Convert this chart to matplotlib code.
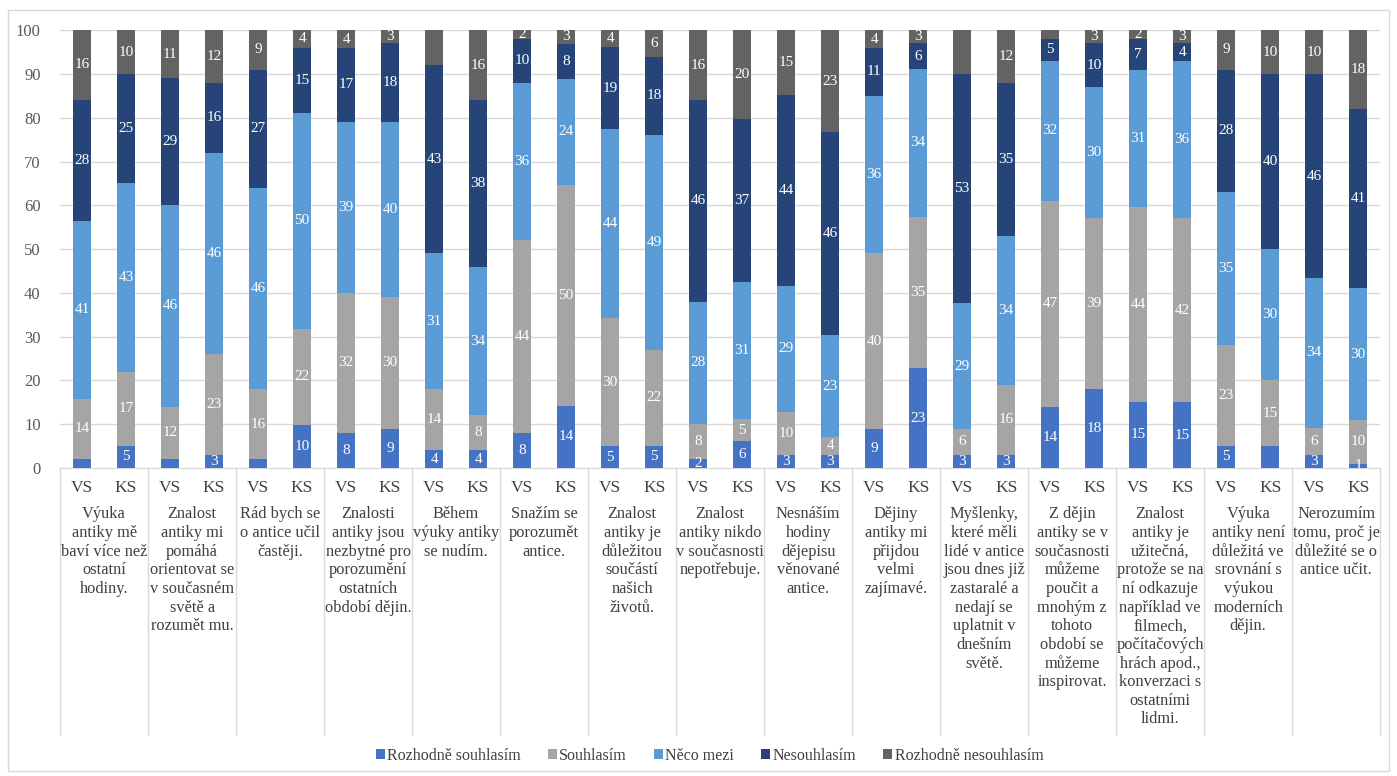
import matplotlib.pyplot as plt
import numpy as np

# answer shares (%) for each statement, VS and KS bars in turn
series_names = ['Rozhodně souhlasím', 'Souhlasím', 'Něco mezi',
                'Nesouhlasím', 'Rozhodně nesouhlasím']
series_colors = ['#4472C4', '#A5A5A5', '#5B9BD5', '#264478', '#636363']

rozhodne_souhlasim = [2, 5, 2, 3, 2, 10, 8, 9, 4, 4, 8, 14, 5, 5, 2,
                      6, 3, 3, 9, 23, 3, 3, 14, 18, 15, 15, 5, 5, 3, 1]
souhlasim = [14, 17, 12, 23, 16, 22, 32, 30, 14, 8, 44, 50, 30, 22, 8,
             5, 10, 4, 40, 35, 6, 16, 47, 39, 44, 42, 23, 15, 6, 10]
neco_mezi = [41, 43, 46, 46, 46, 50, 39, 40, 31, 34, 36, 24, 44, 49, 28,
             31, 29, 23, 36, 34, 29, 34, 32, 30, 31, 36, 35, 30, 34, 30]
nesouhlasim = [28, 25, 29, 16, 27, 15, 17, 18, 43, 38, 10, 8, 19, 18, 46,
               37, 44, 46, 11, 6, 53, 35, 5, 10, 7, 4, 28, 40, 46, 41]
rozhodne_nesouhlasim = [16, 10, 11, 12, 9, 4, 4, 3, 8, 16, 2, 3, 4, 6, 16,
                        20, 15, 23, 4, 3, 10, 12, 2, 3, 2, 3, 9, 10, 10, 18]

# segments whose value is not printed on the bar: (bar index, series index)
unlabelled = {(0, 0), (2, 0), (4, 0), (8, 4), (20, 4), (22, 4), (27, 0)}

bar_labels = ['VS', 'KS'] * 15
statements = [
    'Výuka\nantiky mě\nbaví více než\nostatní\nhodiny.',
    'Znalost\nantiky mi\npomáhá\norientovat se\nv současném\nsvětě a\nrozumět mu.',
    'Rád bych se\no antice učil\nčastěji.',
    'Znalosti\nantiky jsou\nnezbytné pro\nporozumění\nostatních\nobdobí dějin.',
    'Během\nvýuky antiky\nse nudím.',
    'Snažím se\nporozumět\nantice.',
    'Znalost\nantiky je\ndůležitou\nsoučástí\nnašich\nživotů.',
    'Znalost\nantiky nikdo\nv současnosti\nnepotřebuje.',
    'Nesnáším\nhodiny\ndějepisu\nvěnované\nantice.',
    'Dějiny\nantiky mi\npřijdou\nvelmi\nzajímavé.',
    'Myšlenky,\nkteré měli\nlidé v antice\njsou dnes již\nzastaralé a\nnedají se\nuplatnit v\ndnešním\nsvětě.',
    'Z dějin\nantiky se v\nsoučasnosti\nmůžeme\npoučit a\nmnohým z\ntohoto\nobdobí se\nmůžeme\ninspirovat.',
    'Znalost\nantiky je\nužitečná,\nprotože se na\nní odkazuje\nnapříklad ve\nfilmech,\npočítačových\nhrách apod.,\nkonverzaci s\nostatními\nlidmi.',
    'Výuka\nantiky není\ndůležitá ve\nsrovnání s\nvýukou\nmoderních\ndějin.',
    'Nerozumím\ntomu, proč je\ndůležité se o\nantice učit.',
]

plt.rcParams['font.family'] = ['Liberation Serif', 'DejaVu Serif']

fig = plt.figure(figsize=(13.97, 7.76), dpi=100)
ax = fig.add_axes([0.043, 0.397, 0.945, 0.564])

# light frame round the whole chart
fig.patches.append(plt.Rectangle((0.006, 0.006), 0.988, 0.981,
                                 transform=fig.transFigure, fill=False,
                                 edgecolor='#D9D9D9', linewidth=1.0))

x = np.arange(len(bar_labels))
data = np.array([rozhodne_souhlasim, souhlasim, neco_mezi, nesouhlasim,
                 rozhodne_nesouhlasim], dtype=float)
# 100 % stacked: every bar is scaled to its own total
totals = data.sum(axis=0)
bottom = np.zeros(len(x))
for s, (name, col) in enumerate(zip(series_names, series_colors)):
    heights = data[s] / totals * 100
    ax.bar(x, heights, 0.41, bottom=bottom, color=col, label=name, zorder=3)
    for i in range(len(x)):
        if (i, s) in unlabelled:
            continue
        ax.text(x[i], bottom[i] + heights[i] / 2, f'{data[s, i]:.0f}',
                ha='center', va='center', color='white', fontsize=11,
                zorder=4, clip_on=True)
    bottom += heights

ax.set_xlim(-0.5, len(x) - 0.5)
ax.set_ylim(0, 100)
ax.set_yticks(range(0, 101, 10))
ax.yaxis.grid(True, color='#D9D9D9', linewidth=1.0, zorder=0)
ax.tick_params(axis='y', length=0, labelsize=12, labelcolor='#595959', pad=14)
ax.set_xticks(x)
ax.set_xticklabels(bar_labels, fontsize=12.5, color='#404040')
ax.tick_params(axis='x', length=0, pad=9)
for side in ['top', 'right', 'left']:
    ax.spines[side].set_visible(False)
ax.spines['bottom'].set_color('#D9D9D9')

# group dividers and statement texts under the axis
for g in range(len(statements) + 1):
    ax.plot([2 * g - 0.5, 2 * g - 0.5], [0, -0.61], color='#D9D9D9',
            linewidth=1.0, transform=ax.get_xaxis_transform(), clip_on=False)
for g, txt in enumerate(statements):
    ax.text(2 * g + 0.5, -0.088, txt, ha='center', va='top', fontsize=11.8,
            color='#404040', linespacing=1.22,
            transform=ax.get_xaxis_transform())

fig.legend(loc='center', bbox_to_anchor=(0.508, 0.026), ncol=5, frameon=False,
           fontsize=11.5, handlelength=0.55, handleheight=0.55,
           handletextpad=0.15, columnspacing=1.7, labelcolor='#404040')

plt.savefig('out.png', dpi=100)
